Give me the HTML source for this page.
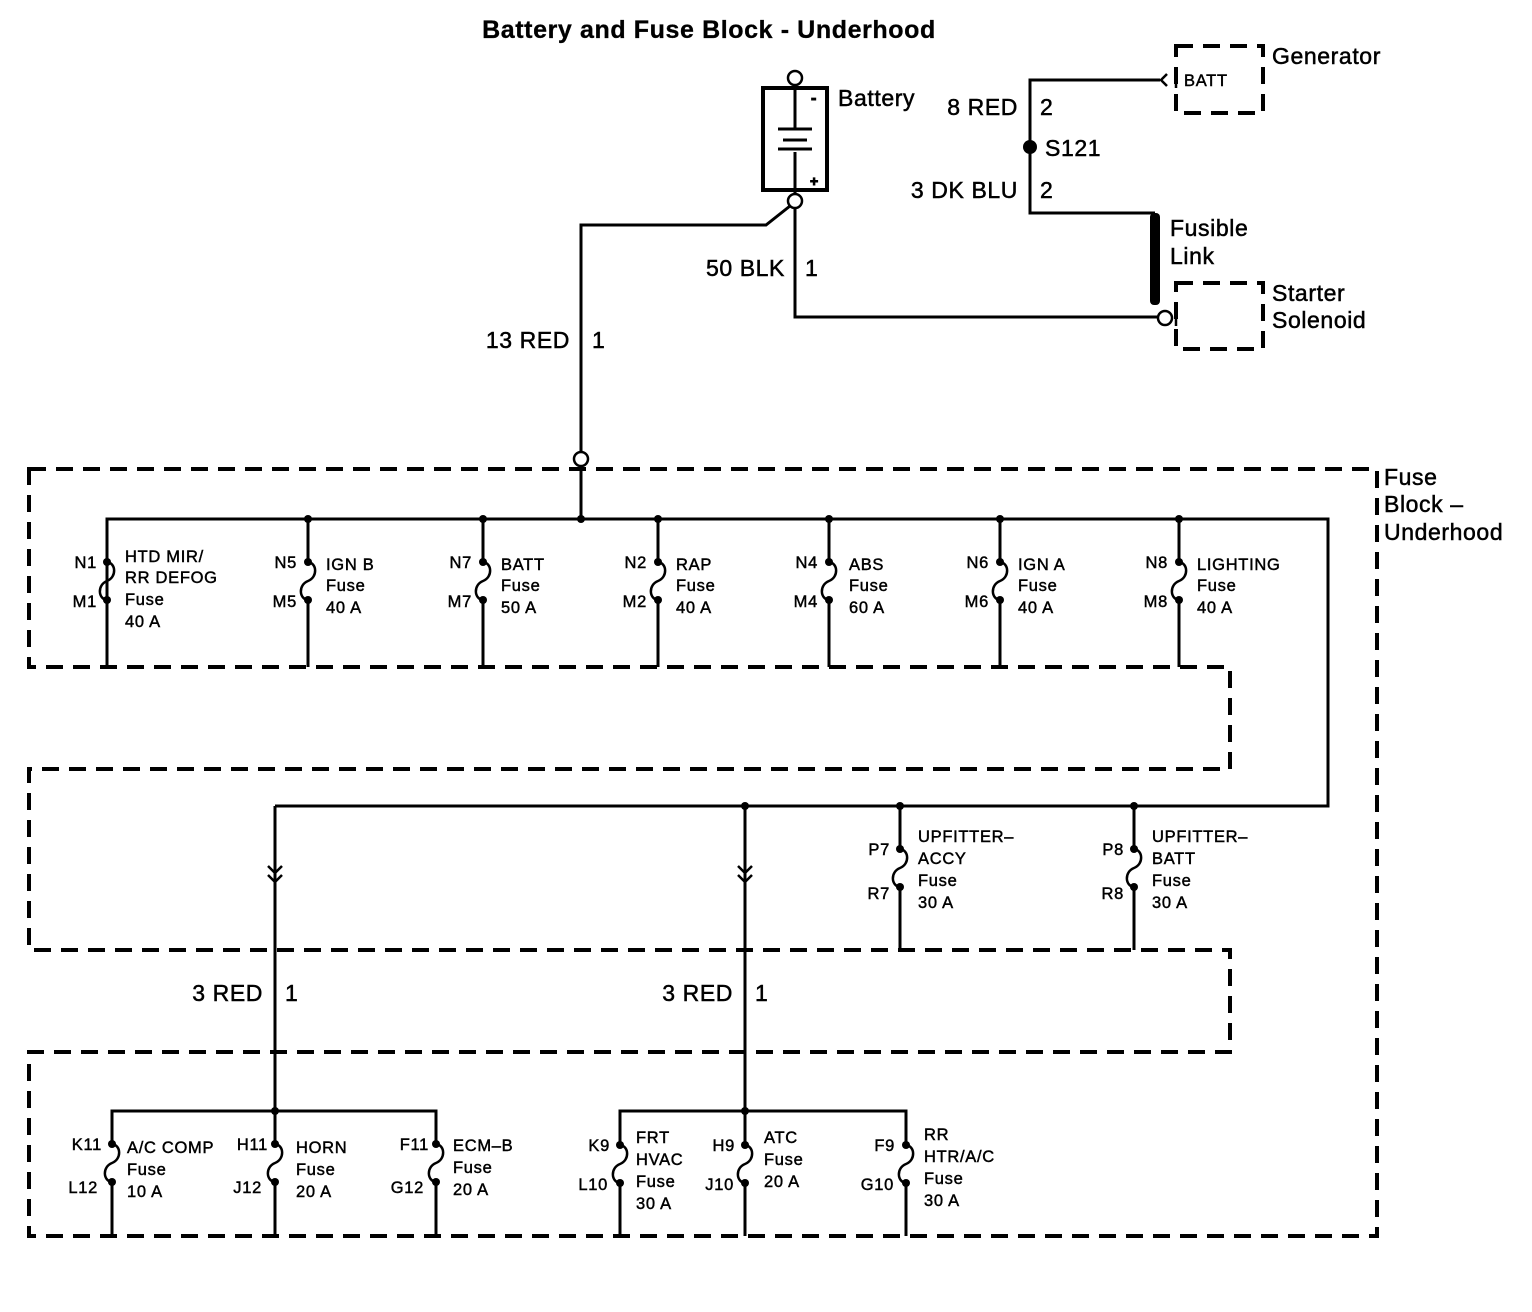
<!DOCTYPE html>
<html><head><meta charset="utf-8"><style>
html,body{margin:0;padding:0;background:#fff}
svg{display:block}
text{font-family:"Liberation Sans",Arial,sans-serif;fill:#000;stroke:#000}
.s{font-size:16.5px;letter-spacing:0.7px;stroke-width:0.45px}
.m{font-size:23px;letter-spacing:0.6px;stroke-width:0.5px}
.r{text-anchor:end}
</style></head><body>
<svg width="1532" height="1312" viewBox="0 0 1532 1312" xmlns="http://www.w3.org/2000/svg">
<defs>
<g id="f">
<path d="M0,0 C9,1 10,15 0,19 C-10,23 -9,37 0,38" fill="none" stroke="#000" stroke-width="2.5"/>
<circle cx="0" cy="0" r="4"/><circle cx="0" cy="38" r="4"/>
</g>
</defs>
<text x="709" y="38" font-size="25" font-weight="bold" letter-spacing="0.6" stroke-width="0.3" text-anchor="middle">Battery and Fuse Block - Underhood</text>

<g fill="none" stroke="#000" stroke-width="3">
<rect x="763" y="88" width="64" height="102" stroke-width="4"/>
<line x1="795" y1="85" x2="795" y2="128"/>
<line x1="795" y1="152" x2="795" y2="194"/>
<line x1="778" y1="129" x2="812" y2="129"/>
<line x1="783" y1="140" x2="807" y2="140"/>
<line x1="778" y1="149" x2="812" y2="149"/>
<circle cx="795" cy="78" r="7" fill="#fff" stroke-width="2.5"/>
<circle cx="795" cy="201" r="7" fill="#fff" stroke-width="2.5"/>
<polyline points="790,206 766,225 581,225 581,452"/>
<circle cx="581" cy="459" r="7" fill="#fff" stroke-width="2.5"/>
<line x1="581" y1="466" x2="581" y2="519"/>
<polyline points="795,208 795,317 1158,317"/>
<circle cx="1165" cy="318" r="7" fill="#fff" stroke-width="2.5"/>
<polyline points="1160,80 1030,80 1030,213 1155,213"/>
<polyline points="1167,74 1161,80 1167,86" stroke-width="2.5"/>
<line x1="1176" y1="72" x2="1176" y2="88" stroke-width="2.5"/>
<line x1="1176" y1="310" x2="1176" y2="326" stroke-width="2.5"/>

<g stroke-dasharray="17,10" stroke-width="4">
<rect x="1176" y="46" width="87" height="67"/>
<rect x="1176" y="283" width="87" height="66"/>
<path d="M29,469 H1377 V1236 H29 V1052 H1230 V950 H29 V769 H1230 V667 H29 Z"/>
</g>

<polyline points="107,667 107,519 1328,519 1328,806 275,806"/>
<g>
<line x1="107" y1="600" x2="107" y2="667"/>
<line x1="308" y1="519" x2="308" y2="562"/><line x1="308" y1="600" x2="308" y2="667"/>
<line x1="483" y1="519" x2="483" y2="562"/><line x1="483" y1="600" x2="483" y2="667"/>
<line x1="658" y1="519" x2="658" y2="562"/><line x1="658" y1="600" x2="658" y2="667"/>
<line x1="829" y1="519" x2="829" y2="562"/><line x1="829" y1="600" x2="829" y2="667"/>
<line x1="1000" y1="519" x2="1000" y2="562"/><line x1="1000" y1="600" x2="1000" y2="667"/>
<line x1="1179" y1="519" x2="1179" y2="562"/><line x1="1179" y1="600" x2="1179" y2="667"/>
</g>
<line x1="275" y1="806" x2="275" y2="1111"/>
<line x1="745" y1="806" x2="745" y2="1111"/>
<polyline points="268,866 275,873 282,866" stroke-width="2.5"/>
<polyline points="268,875 275,882 282,875" stroke-width="2.5"/>
<polyline points="738,866 745,873 752,866" stroke-width="2.5"/>
<polyline points="738,875 745,882 752,875" stroke-width="2.5"/>
<line x1="900" y1="806" x2="900" y2="849"/><line x1="900" y1="887" x2="900" y2="950"/>
<line x1="1134" y1="806" x2="1134" y2="849"/><line x1="1134" y1="887" x2="1134" y2="950"/>
<polyline points="112,1144 112,1111 436,1111 436,1144"/>
<line x1="112" y1="1182" x2="112" y2="1236"/>
<line x1="275" y1="1111" x2="275" y2="1144"/><line x1="275" y1="1182" x2="275" y2="1236"/>
<line x1="436" y1="1182" x2="436" y2="1236"/>
<polyline points="620,1145 620,1111 906,1111 906,1145"/>
<line x1="620" y1="1183" x2="620" y2="1236"/>
<line x1="745" y1="1111" x2="745" y2="1145"/><line x1="745" y1="1183" x2="745" y2="1236"/>
<line x1="906" y1="1183" x2="906" y2="1236"/>
</g>
<rect x="1150" y="213" width="10" height="92" rx="4"/>
<circle cx="1030" cy="147" r="7"/>
<g>
<circle cx="308" cy="519" r="4"/><circle cx="483" cy="519" r="4"/><circle cx="581" cy="519" r="4"/>
<circle cx="658" cy="519" r="4"/><circle cx="829" cy="519" r="4"/><circle cx="1000" cy="519" r="4"/>
<circle cx="1179" cy="519" r="4"/><circle cx="745" cy="806" r="4"/><circle cx="900" cy="806" r="4"/>
<circle cx="1134" cy="806" r="4"/><circle cx="275" cy="1111" r="4"/><circle cx="745" cy="1111" r="4"/>
</g>
<use href="#f" x="107" y="562"/><use href="#f" x="308" y="562"/><use href="#f" x="483" y="562"/>
<use href="#f" x="658" y="562"/><use href="#f" x="829" y="562"/><use href="#f" x="1000" y="562"/>
<use href="#f" x="1179" y="562"/><use href="#f" x="900" y="849"/><use href="#f" x="1134" y="849"/>
<use href="#f" x="112" y="1144"/><use href="#f" x="275" y="1144"/><use href="#f" x="436" y="1144"/>
<use href="#f" x="620" y="1145"/><use href="#f" x="745" y="1145"/><use href="#f" x="906" y="1145"/>

<text x="811" y="103" font-size="16" font-weight="bold">-</text>
<text x="810" y="186" font-size="14" font-weight="bold">+</text>
<text class="m" x="838" y="106">Battery</text>
<text class="m r" x="1018" y="115">8 RED</text><text class="m" x="1040" y="115">2</text>
<text class="m" x="1045" y="156">S121</text>
<text class="m r" x="1018" y="198">3 DK BLU</text><text class="m" x="1040" y="198">2</text>
<text class="s" x="1184" y="86">BATT</text>
<text class="m" x="1272" y="64">Generator</text>
<text class="m" x="1170" y="236">Fusible</text><text class="m" x="1170" y="264">Link</text>
<text class="m" x="1272" y="301">Starter</text><text class="m" x="1272" y="328">Solenoid</text>
<text class="m r" x="785" y="276">50 BLK</text><text class="m" x="805" y="276">1</text>
<text class="m r" x="570" y="348">13 RED</text><text class="m" x="592" y="348">1</text>
<text class="m" x="1384" y="485">Fuse</text><text class="m" x="1384" y="512">Block –</text><text class="m" x="1384" y="540">Underhood</text>
<text class="m r" x="263" y="1001">3 RED</text><text class="m" x="285" y="1001">1</text>
<text class="m r" x="733" y="1001">3 RED</text><text class="m" x="755" y="1001">1</text>

<g class="s">
<text class="r" x="97" y="568">N1</text><text class="r" x="97" y="607">M1</text>
<text x="125" y="562">HTD MIR/</text><text x="125" y="583">RR DEFOG</text><text x="125" y="605">Fuse</text><text x="125" y="627">40 A</text>
<text class="r" x="297" y="568">N5</text><text class="r" x="297" y="607">M5</text>
<text x="326" y="570">IGN B</text><text x="326" y="591">Fuse</text><text x="326" y="613">40 A</text>
<text class="r" x="472" y="568">N7</text><text class="r" x="472" y="607">M7</text>
<text x="501" y="570">BATT</text><text x="501" y="591">Fuse</text><text x="501" y="613">50 A</text>
<text class="r" x="647" y="568">N2</text><text class="r" x="647" y="607">M2</text>
<text x="676" y="570">RAP</text><text x="676" y="591">Fuse</text><text x="676" y="613">40 A</text>
<text class="r" x="818" y="568">N4</text><text class="r" x="818" y="607">M4</text>
<text x="849" y="570">ABS</text><text x="849" y="591">Fuse</text><text x="849" y="613">60 A</text>
<text class="r" x="989" y="568">N6</text><text class="r" x="989" y="607">M6</text>
<text x="1018" y="570">IGN A</text><text x="1018" y="591">Fuse</text><text x="1018" y="613">40 A</text>
<text class="r" x="1168" y="568">N8</text><text class="r" x="1168" y="607">M8</text>
<text x="1197" y="570">LIGHTING</text><text x="1197" y="591">Fuse</text><text x="1197" y="613">40 A</text>

<text class="r" x="890" y="855">P7</text><text class="r" x="890" y="899">R7</text>
<text x="918" y="842">UPFITTER–</text><text x="918" y="864">ACCY</text><text x="918" y="886">Fuse</text><text x="918" y="908">30 A</text>
<text class="r" x="1124" y="855">P8</text><text class="r" x="1124" y="899">R8</text>
<text x="1152" y="842">UPFITTER–</text><text x="1152" y="864">BATT</text><text x="1152" y="886">Fuse</text><text x="1152" y="908">30 A</text>

<text class="r" x="102" y="1150">K11</text><text class="r" x="98" y="1193">L12</text>
<text x="127" y="1153">A/C COMP</text><text x="127" y="1175">Fuse</text><text x="127" y="1197">10 A</text>
<text class="r" x="268" y="1150">H11</text><text class="r" x="262" y="1193">J12</text>
<text x="296" y="1153">HORN</text><text x="296" y="1175">Fuse</text><text x="296" y="1197">20 A</text>
<text class="r" x="429" y="1150">F11</text><text class="r" x="424" y="1193">G12</text>
<text x="453" y="1151">ECM–B</text><text x="453" y="1173">Fuse</text><text x="453" y="1195">20 A</text>

<text class="r" x="610" y="1151">K9</text><text class="r" x="608" y="1190">L10</text>
<text x="636" y="1143">FRT</text><text x="636" y="1165">HVAC</text><text x="636" y="1187">Fuse</text><text x="636" y="1209">30 A</text>
<text class="r" x="735" y="1151">H9</text><text class="r" x="734" y="1190">J10</text>
<text x="764" y="1143">ATC</text><text x="764" y="1165">Fuse</text><text x="764" y="1187">20 A</text>
<text class="r" x="895" y="1151">F9</text><text class="r" x="894" y="1190">G10</text>
<text x="924" y="1140">RR</text><text x="924" y="1162">HTR/A/C</text><text x="924" y="1184">Fuse</text><text x="924" y="1206">30 A</text>
</g>
</svg>
</body></html>
